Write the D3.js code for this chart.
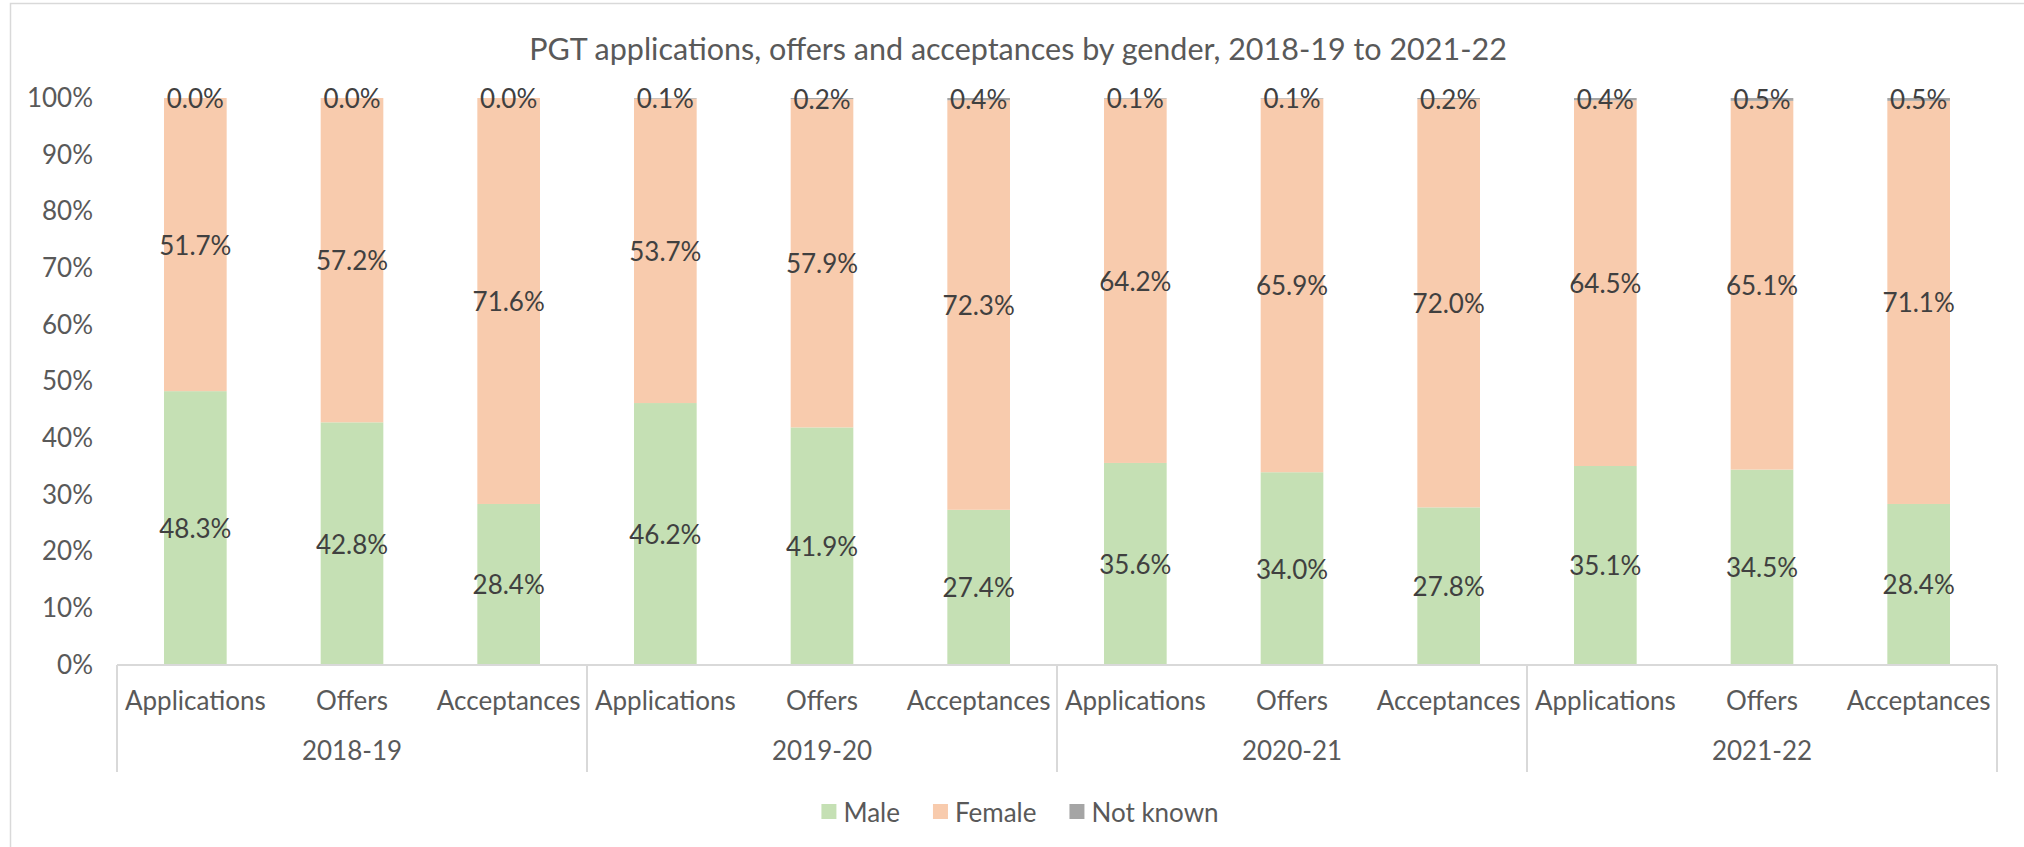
<!DOCTYPE html>
<html>
<head>
<meta charset="utf-8">
<script src="https://cdn.jsdelivr.net/npm/d3@7"></script>
<style>
  body { margin: 0; background: #fff; }
  svg { display: block; font-family: Lato, "Open Sans", sans-serif; }
</style>
</head>
<body>
<svg id="chart" width="2024" height="847"></svg>
<script>
"use strict";

// values (percent)
const years = ["2018-19", "2019-20", "2020-21", "2021-22"];
const stages = ["Applications", "Offers", "Acceptances"];
const seriesNames = ["Male", "Female", "Not known"];

const male     = [48.3, 42.8, 28.4, 46.2, 41.9, 27.4, 35.6, 34.0, 27.8, 35.1, 34.5, 28.4];
const female   = [51.7, 57.2, 71.6, 53.7, 57.9, 72.3, 64.2, 65.9, 72.0, 64.5, 65.1, 71.1];
const notKnown = [0.0, 0.0, 0.0, 0.1, 0.2, 0.4, 0.1, 0.1, 0.2, 0.4, 0.5, 0.5];

const colours = ["#C5E0B4", "#F8CBAD", "#A5A5A5"];

// build one row per bar
const rows = [];
years.forEach((y, yi) => {
  stages.forEach((s, si) => {
    const i = yi * stages.length + si;
    rows.push({
      key: y + "|" + s, year: y, stage: s,
      "Male": male[i], "Female": female[i], "Not known": notKnown[i]
    });
  });
});

const svg = d3.select("#chart");
const plotLeft = 117, plotRight = 1997, plotTop = 98, plotBottom = 665;

// chart border (runs off the right/bottom of the picture)
svg.append("rect")
  .attr("x", 10.5).attr("y", 3.5)
  .attr("width", 2200).attr("height", 1000)
  .attr("fill", "#fff")
  .attr("stroke", "#D9D9D9")
  .attr("stroke-width", 1.5);

svg.append("text")
  .attr("x", 1018).attr("y", 48)
  .attr("text-anchor", "middle")
  .attr("dominant-baseline", "central")
  .style("font-size", "30.5px")
  .style("fill", "#595959")
  .text("PGT applications, offers and acceptances by gender, 2018-19 to 2021-22");

const xScale = d3.scaleBand()
  .domain(rows.map(d => d.key))
  .range([plotLeft, plotRight])
  .paddingInner(0.6)
  .paddingOuter(0.3);

const yearScale = d3.scaleBand()
  .domain(years)
  .range([plotLeft, plotRight]);

const yScale = d3.scaleLinear()
  .domain([0, 1])
  .range([plotBottom, plotTop]);

const colour = d3.scaleOrdinal().domain(seriesNames).range(colours);

const stacked = d3.stack()
  .keys(seriesNames)
  .offset(d3.stackOffsetExpand)(rows);

// y axis
const yAxis = svg.append("g")
  .attr("transform", `translate(${plotLeft},0)`)
  .call(d3.axisLeft(yScale).ticks(10).tickFormat(d3.format(".0%")).tickSize(0).tickPadding(24));
yAxis.select(".domain").remove();
yAxis.selectAll("text")
  .style("font-family", "Lato, sans-serif")
  .style("font-size", "26px")
  .style("fill", "#595959");

// bars
const layers = svg.append("g").selectAll("g")
  .data(stacked)
  .enter()
  .append("g")
  .attr("fill", d => colour(d.key));

layers.selectAll("rect")
  .data(d => d)
  .enter()
  .append("rect")
  .attr("x", d => xScale(d.data.key))
  .attr("y", d => yScale(d[1]))
  .attr("width", xScale.bandwidth())
  .attr("height", d => yScale(d[0]) - yScale(d[1]));

// x axis line
svg.append("line")
  .attr("x1", plotLeft).attr("x2", plotRight)
  .attr("y1", plotBottom).attr("y2", plotBottom)
  .attr("stroke", "#D9D9D9")
  .attr("stroke-width", 2);

// group separators
svg.append("g").selectAll("line")
  .data(years.concat(["end"]))
  .enter()
  .append("line")
  .attr("x1", (d, i) => i < years.length ? yearScale(d) : plotRight)
  .attr("x2", (d, i) => i < years.length ? yearScale(d) : plotRight)
  .attr("y1", plotBottom).attr("y2", 772)
  .attr("stroke", "#D9D9D9")
  .attr("stroke-width", 2);

// data labels
stacked.forEach(layer => {
  svg.append("g").selectAll("text")
    .data(layer)
    .enter()
    .append("text")
    .attr("x", d => xScale(d.data.key) + xScale.bandwidth() / 2)
    .attr("y", d => (yScale(d[0]) + yScale(d[1])) / 2)
    .attr("text-anchor", "middle")
    .attr("dominant-baseline", "central")
    .style("font-size", "26px")
    .style("fill", "#404040")
    .text(d => d.data[layer.key].toFixed(1) + "%");
});

// category labels
const xAxis = svg.append("g")
  .attr("transform", `translate(0,${plotBottom})`)
  .call(d3.axisBottom(xScale).tickSize(0).tickFormat(k => k.split("|")[1]));
xAxis.select(".domain").remove();
xAxis.selectAll("text")
  .attr("y", 36).attr("dy", "0.35em")
  .style("font-family", "Lato, sans-serif")
  .style("font-size", "26px")
  .style("fill", "#595959");

// year labels
const yearAxis = svg.append("g")
  .attr("transform", `translate(0,${plotBottom})`)
  .call(d3.axisBottom(yearScale).tickSize(0));
yearAxis.select(".domain").remove();
yearAxis.selectAll("text")
  .attr("y", 86).attr("dy", "0.35em")
  .style("font-family", "Lato, sans-serif")
  .style("font-size", "26px")
  .style("fill", "#595959");

// legend
const legend = svg.append("g");
let lx = 0;
seriesNames.forEach(name => {
  const item = legend.append("g").attr("transform", `translate(${lx},0)`);
  item.append("rect")
    .attr("x", 0).attr("y", -8)
    .attr("width", 15).attr("height", 15)
    .attr("fill", colour(name));
  const t = item.append("text")
    .attr("x", 22).attr("y", 0)
    .attr("dominant-baseline", "central")
    .style("font-size", "26px")
    .style("fill", "#595959")
    .text(name);
  lx += 22 + t.node().getComputedTextLength() + 33;
});
const legendWidth = lx - 33;
legend.attr("transform", `translate(${1020 - legendWidth / 2},812)`);
</script>
</body>
</html>
